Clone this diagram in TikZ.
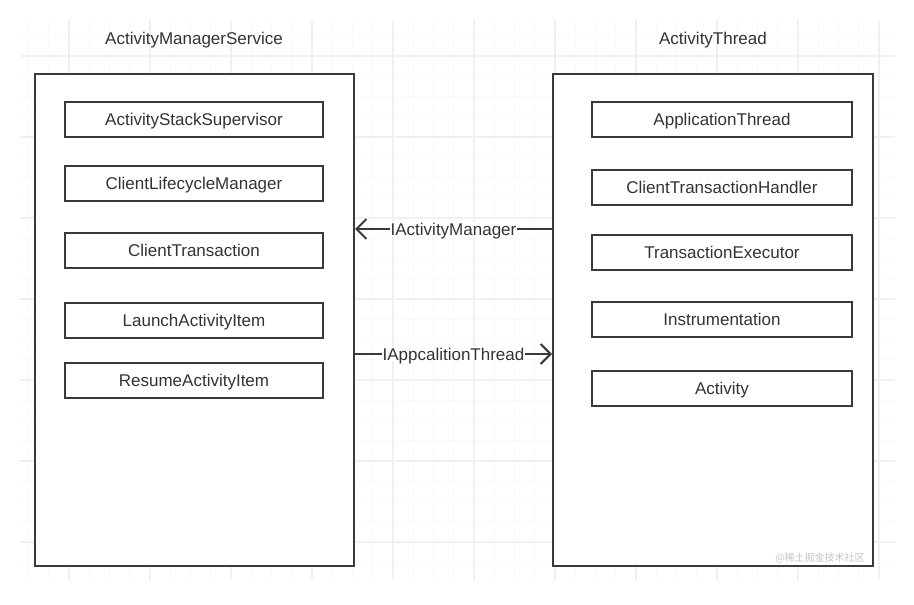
\documentclass[tikz,border=0pt]{standalone}
\usepackage{fontspec}
\setmainfont{Liberation Sans}
\newfontfamily\cjk{Noto Sans CJK SC}
\usetikzlibrary{arrows.meta}
\definecolor{ink}{HTML}{3A3A3A}
\definecolor{txt}{HTML}{333333}
\tikzset{
  outerbox/.style={draw=ink, line width=2pt, fill=none},
  innerbox/.style={draw=ink, line width=2pt, minimum height=35pt, text=txt, font=\fontsize{17}{20}\selectfont, inner sep=0pt, text height=12.2pt, text depth=0pt},
  title/.style={text=txt, font=\fontsize{17}{20}\selectfont, text height=12.2pt, text depth=0pt},
  conn/.style={draw=ink, line width=2pt, -{Straight Barb[length=10pt,width=20pt,line width=2pt]}},
  lbl/.style={fill=white, text=txt, font=\fontsize{17}{20}\selectfont, inner sep=1pt, text height=12.2pt, text depth=0pt},
  gridminor/.style={draw=gray!5, line width=0.8pt},
  gridmajor/.style={draw=gray!12, line width=1.2pt}
}
\begin{document}
\begin{tikzpicture}[x=1pt,y=-1pt]
\useasboundingbox (0,0) rectangle (914,605);
\fill[white] (0,0) rectangle (914,605);
% grid
\foreach \i in {0,...,42} {
  \pgfmathsetmacro{\gx}{28.5+20.25*\i}
  \ifdim \gx pt<896pt \draw[gridminor] (\gx,20) -- (\gx,580); \fi
}
\foreach \i in {0,...,26} {
  \pgfmathsetmacro{\gy}{35.75+20.25*\i}
  \ifdim \gy pt<581pt \draw[gridminor] (20,\gy) -- (895,\gy); \fi
}
\foreach \gx in {69,150,231,312,393,474,555,636,717,798,879} \draw[gridmajor] (\gx,20) -- (\gx,580);
\foreach \gy in {56,137,218,299,380,461,542} \draw[gridmajor] (20,\gy) -- (895,\gy);

% titles
\node[title] (tl) at (194,38) {ActivityManagerService};
\node[title] (tr) at (713,38) {ActivityThread};

% outer boxes
\node[outerbox, minimum width=319pt, minimum height=492pt, inner sep=0pt, fill=white] (ams) at (194.5,320) {};
\node[outerbox, minimum width=320pt, minimum height=492pt, inner sep=0pt, fill=white] (at) at (713,320) {};

% left inner boxes
\node[innerbox, minimum width=258pt] (ass) at (194,119) {ActivityStackSupervisor};
\node[innerbox, minimum width=258pt] (clm) at (194,183.5) {ClientLifecycleManager};
\node[innerbox, minimum width=258pt] (ct) at (194,250.5) {ClientTransaction};
\node[innerbox, minimum width=258pt] (lai) at (194,320) {LaunchActivityItem};
\node[innerbox, minimum width=258pt] (rai) at (194,380.5) {ResumeActivityItem};

% right inner boxes
\node[innerbox, minimum width=260pt] (apt) at (722,119) {ApplicationThread};
\node[innerbox, minimum width=260pt] (cth) at (722,187.5) {ClientTransactionHandler};
\node[innerbox, minimum width=260pt] (te) at (722,252) {TransactionExecutor};
\node[innerbox, minimum width=260pt] (ins) at (722,319) {Instrumentation};
\node[innerbox, minimum width=260pt] (act) at (722,388.5) {Activity};

% connectors
\draw[conn] (at.west |- 0,229) -- node[lbl, pos=0.5] (l1) {IActivityManager} (ams.east |- 0,229);
\draw[conn] (ams.east |- 0,354) -- node[lbl, pos=0.5] (l2) {IAppcalitionThread} (at.west |- 0,354);

% watermark
\node[text=gray!45, font=\cjk\fontsize{10}{12}\selectfont] (wm) at (820,558) {@稀土掘金技术社区};
\end{tikzpicture}
\end{document}
